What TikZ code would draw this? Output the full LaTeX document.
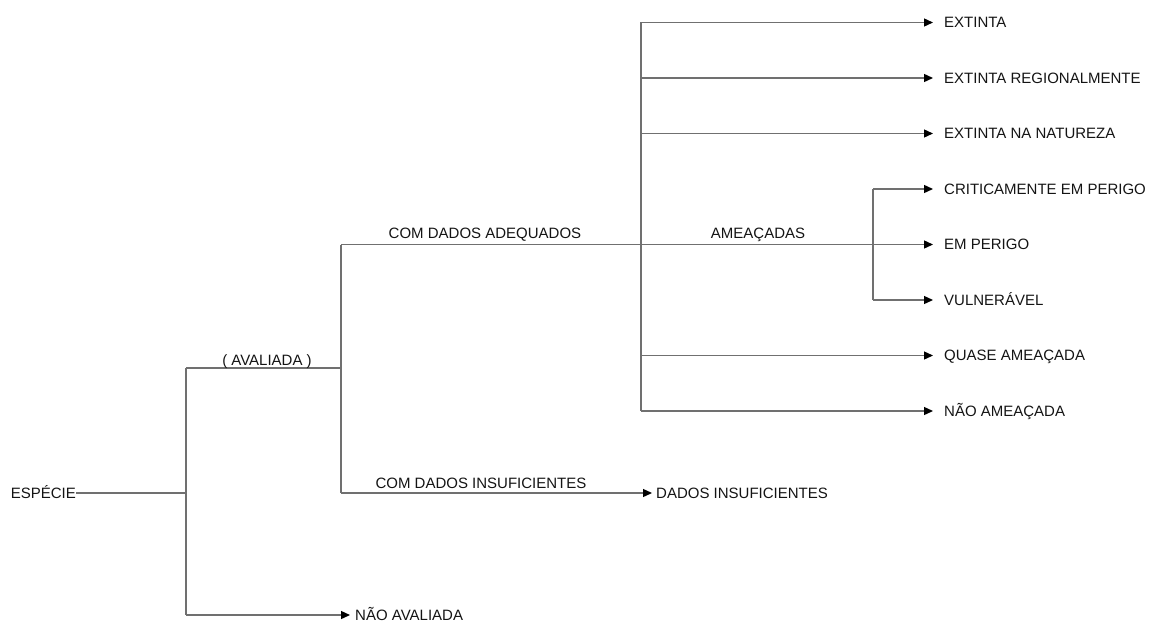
\documentclass[tikz,border=0pt]{standalone}
\usepackage{fontspec}
\setmainfont{Liberation Sans}
\usetikzlibrary{arrows.meta}
\definecolor{linegray}{HTML}{707070}
\definecolor{txt}{HTML}{141414}
\begin{document}
\begin{tikzpicture}[x=1pt,y=-1pt,
  every node/.style={font=\fontsize{15}{17}\selectfont, text=txt, text height=10.7pt, text depth=0pt},
  leaf/.style={anchor=west, inner xsep=11pt, inner ysep=0pt},
  lbl/.style={anchor=south, inner sep=0pt},
  conn/.style={draw=linegray, line width=1.3pt},
  arr/.style={conn, -{Triangle[length=9pt,width=8pt,color=black]}}]
\useasboundingbox (0,0) rectangle (1150,626);

% nodes
\node[anchor=east, inner sep=0pt] (esp) at (76,493) {ESPÉCIE};
\node[anchor=west, inner xsep=5pt, inner ysep=0pt] (naoav) at (350,615) {NÃO AVALIADA};
\node[anchor=west, inner xsep=4pt, inner ysep=0pt] (dins) at (652,493) {DADOS INSUFICIENTES};
\node[leaf] (ext) at (933,22.5) {EXTINTA};
\node[leaf] (extr) at (933,78) {EXTINTA REGIONALMENTE};
\node[leaf] (extn) at (933,133.5) {EXTINTA NA NATUREZA};
\node[leaf] (crit) at (933,189) {CRITICAMENTE EM PERIGO};
\node[leaf] (emp) at (933,244.5) {EM PERIGO};
\node[leaf] (vul) at (933,300) {VULNERÁVEL};
\node[leaf] (quase) at (933,355.5) {QUASE AMEAÇADA};
\node[leaf] (naoam) at (933,411) {NÃO AMEAÇADA};

% branch points
\coordinate (a0) at (186,493);
\coordinate (a1) at (186,368);
\coordinate (a2) at (186,615);
\coordinate (b0) at (341,368);
\coordinate (b1) at (341,244.5);
\coordinate (b2) at (341,493);
\coordinate (c0) at (641,244.5);
\coordinate (c1) at (641,22.5);
\coordinate (c2) at (641,78);
\coordinate (c3) at (641,133.5);
\coordinate (c4) at (641,355.5);
\coordinate (c5) at (641,411);
\coordinate (d0) at (873,244.5);
\coordinate (d1) at (873,189);
\coordinate (d2) at (873,300);

% connectors
\draw[conn] (esp.east) -- (a0);
\draw[conn] (a1) -- (a2);
\draw[conn] (a1) -- (b0);
\draw[arr] (a2) -- (naoav.west);
\draw[conn] (b1) -- (b2);
\draw[arr] (b2) -- (dins.west);
\draw[arr] (b1) -- (emp.west);
\draw[conn] (c1) -- (c5);
\draw[arr] (c1) -- (ext.west);
\draw[arr] (c2) -- (extr.west);
\draw[arr] (c3) -- (extn.west);
\draw[arr] (c4) -- (quase.west);
\draw[arr] (c5) -- (naoam.west);
\draw[conn] (d1) -- (d2);
\draw[arr] (d1) -- (crit.west);
\draw[arr] (d2) -- (vul.west);

% edge labels
\node[lbl] (lav) at (267,366) {( AVALIADA )};
\node[lbl] (lcda) at (485,239) {COM DADOS ADEQUADOS};
\node[lbl] (lcdi) at (481,489) {COM DADOS INSUFICIENTES};
\node[lbl] (lam) at (758,239) {AMEAÇADAS};
\end{tikzpicture}
\end{document}
